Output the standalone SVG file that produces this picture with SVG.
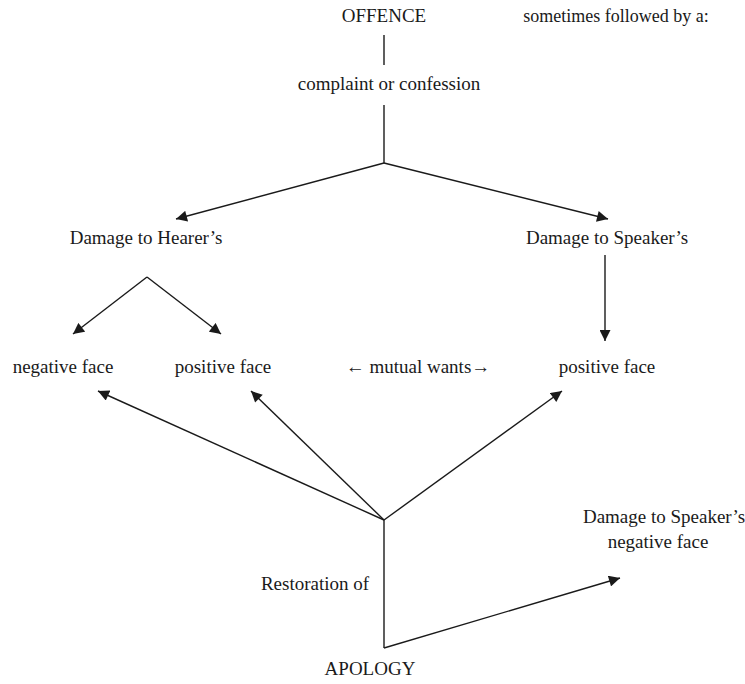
<svg xmlns="http://www.w3.org/2000/svg" width="745" height="684" viewBox="0 0 745 684">
<style>
text{font-family:"Liberation Serif","Times New Roman",serif;font-size:19px;fill:#1a1a1a}
.c{stroke:#1a1a1a;stroke-width:1.4;fill:none}
</style>
<defs>
<marker id="ah" viewBox="0 0 10 10" refX="10" refY="5" markerWidth="12" markerHeight="11" markerUnits="userSpaceOnUse" orient="auto">
<path d="M0,0 L10,5 L0,10 z" fill="#1a1a1a"/>
</marker>
</defs>
<rect width="745" height="684" fill="#fff"/>
<g id="connectors">
<line class="c" x1="384" y1="35" x2="384" y2="65"/>
<polyline class="c" points="384,105 384,163"/>
<line class="c" x1="384" y1="163" x2="176" y2="219" marker-end="url(#ah)"/>
<line class="c" x1="384" y1="163" x2="608" y2="219" marker-end="url(#ah)"/>
<line class="c" x1="147" y1="277" x2="73" y2="334" marker-end="url(#ah)"/>
<line class="c" x1="147" y1="277" x2="221" y2="334" marker-end="url(#ah)"/>
<line class="c" x1="605" y1="255" x2="605" y2="341" marker-end="url(#ah)"/>
<line class="c" x1="384" y1="520" x2="98" y2="391" marker-end="url(#ah)"/>
<line class="c" x1="384" y1="520" x2="251" y2="391" marker-end="url(#ah)"/>
<line class="c" x1="384" y1="520" x2="562" y2="391" marker-end="url(#ah)"/>
<polyline class="c" points="384,520 384,648"/>
<line class="c" x1="384" y1="648" x2="620" y2="578" marker-end="url(#ah)"/>
</g>
<g id="offence"><text x="384" y="22" text-anchor="middle">OFFENCE</text></g>
<g id="note"><text x="616" y="22" text-anchor="middle" style="font-size:18px">sometimes followed by a:</text></g>
<g id="complaint"><text x="389" y="90" text-anchor="middle">complaint or confession</text></g>
<g id="hearer"><text x="146" y="244" text-anchor="middle">Damage to Hearer’s</text></g>
<g id="speaker"><text x="607" y="244" text-anchor="middle">Damage to Speaker’s</text></g>
<g id="hneg"><text x="63" y="373" text-anchor="middle">negative face</text></g>
<g id="hpos"><text x="223" y="373" text-anchor="middle">positive face</text></g>
<g id="mutual"><text x="418" y="373" text-anchor="middle">← mutual wants→</text></g>
<g id="spos"><text x="607" y="373" text-anchor="middle">positive face</text></g>
<g id="sneg"><text x="664" y="523" text-anchor="middle">Damage to Speaker’s</text><text x="658" y="548" text-anchor="middle">negative face</text></g>
<g id="restoration"><text x="315" y="590" text-anchor="middle">Restoration of</text></g>
<g id="apology"><text x="370" y="675" text-anchor="middle">APOLOGY</text></g>
</svg>
